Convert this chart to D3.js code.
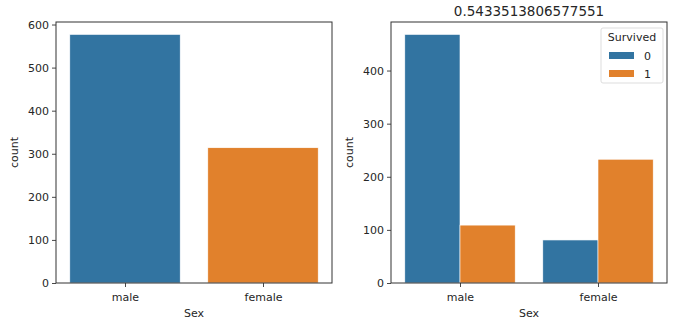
<!DOCTYPE html>
<html><head><meta charset="utf-8">
<script src="https://cdn.jsdelivr.net/npm/d3@7"></script>
<style>body{margin:0;background:#fff}svg{display:block}text{font-family:"DejaVu Sans",sans-serif;fill:#262626}</style>
</head><body><svg id="c" width="675" height="333"></svg>
<script>
const categories = ["male", "female"];
const counts = [577, 314];
const survivedLevels = ["0", "1"];
const notSurvived = [468, 81];
const survived = [109, 233];
const leftTicks = [0, 100, 200, 300, 400, 500, 600];
const rightTicks = [0, 100, 200, 300, 400];
const title = "0.5433513806577551";
const colors = ["#3274a1", "#e1812c"];

const svg = d3.select("#c");
const plotTop = 22, plotBottom = 283;
const fs = "11px";

function panel(x0, x1, maxVal, ticks) {
  const g = svg.append("g");
  const x = d3.scaleLinear().domain([-0.5, 1.5]).range([x0, x1]);
  const y = d3.scaleLinear().domain([0, maxVal * 1.05]).range([plotBottom, plotTop]);
  const ya = g.append("g").attr("transform", `translate(${x0},0)`)
    .call(d3.axisLeft(y).tickValues(ticks).tickSize(4).tickPadding(3).tickFormat(d3.format("d")));
  const xa = g.append("g").attr("transform", `translate(0,${plotBottom})`)
    .call(d3.axisBottom(x).tickValues([0, 1]).tickSize(4).tickPadding(6).tickFormat(i => categories[i]));
  [ya, xa].forEach(a => {
    a.select(".domain").remove();
    a.selectAll("line").attr("stroke", "#333").attr("stroke-width", 0.9);
    a.selectAll("text").style("font-size", fs).attr("fill", "#262626");
  });
  g.append("text").attr("x", (x0 + x1) / 2).attr("y", 317).attr("text-anchor", "middle").style("font-size", fs).text("Sex");
  g.append("text").attr("transform", `translate(${x0 - 42},${(plotTop + plotBottom) / 2}) rotate(-90)`).attr("text-anchor", "middle").attr("dy", "0.35em").style("font-size", fs).text("count");
  return {g, x, y, x0, x1};
}

// Left panel
const L = panel(56, 332, d3.max(counts), leftTicks);
L.g.insert("g", ":first-child").selectAll("rect").data(counts).join("rect")
  .attr("x", (d, i) => L.x(i - 0.4)).attr("width", L.x(0.4) - L.x(-0.4))
  .attr("y", d => L.y(d)).attr("height", d => L.y(0) - L.y(d))
  .attr("fill", (d, i) => colors[i]).attr("stroke", "#fff").attr("stroke-width", 0.6);
L.g.append("rect").attr("x", 56).attr("y", plotTop).attr("width", 276).attr("height", plotBottom - plotTop)
  .attr("fill", "none").attr("stroke", "#333").attr("stroke-width", 1);

// Right panel
const series = [notSurvived, survived];
const R = panel(391, 667, d3.max(series.flat()), rightTicks);
const rg = R.g.insert("g", ":first-child");
series.forEach((vals, s) => {
  rg.append("g").selectAll("rect").data(vals).join("rect")
    .attr("x", (d, i) => R.x(i - 0.4 + s * 0.4)).attr("width", R.x(0.4) - R.x(0))
    .attr("y", d => R.y(d)).attr("height", d => R.y(0) - R.y(d))
    .attr("fill", colors[s]).attr("stroke", "#fff").attr("stroke-width", 0.6);
});
R.g.append("rect").attr("x", 391).attr("y", plotTop).attr("width", 276).attr("height", plotBottom - plotTop)
  .attr("fill", "none").attr("stroke", "#333").attr("stroke-width", 1);
svg.append("text").attr("x", (391 + 667) / 2).attr("y", 16).attr("text-anchor", "middle").style("font-size", "13.5px").text(title);

// Legend
const lg = svg.append("g");
lg.append("rect").attr("x", 601).attr("y", 28).attr("width", 62).attr("height", 55).attr("rx", 2)
  .attr("fill", "#fff").attr("fill-opacity", 0.8).attr("stroke", "#ddd");
lg.append("text").attr("x", 632).attr("y", 41).attr("text-anchor", "middle").style("font-size", fs).text("Survived");
survivedLevels.forEach((lab, i) => {
  lg.append("rect").attr("x", 609).attr("y", 52 + i * 18).attr("width", 25).attr("height", 7).attr("fill", colors[i]);
  lg.append("text").attr("x", 644).attr("y", 56 + i * 18).attr("dy", "0.35em").style("font-size", fs).text(lab);
});
</script></body></html>
